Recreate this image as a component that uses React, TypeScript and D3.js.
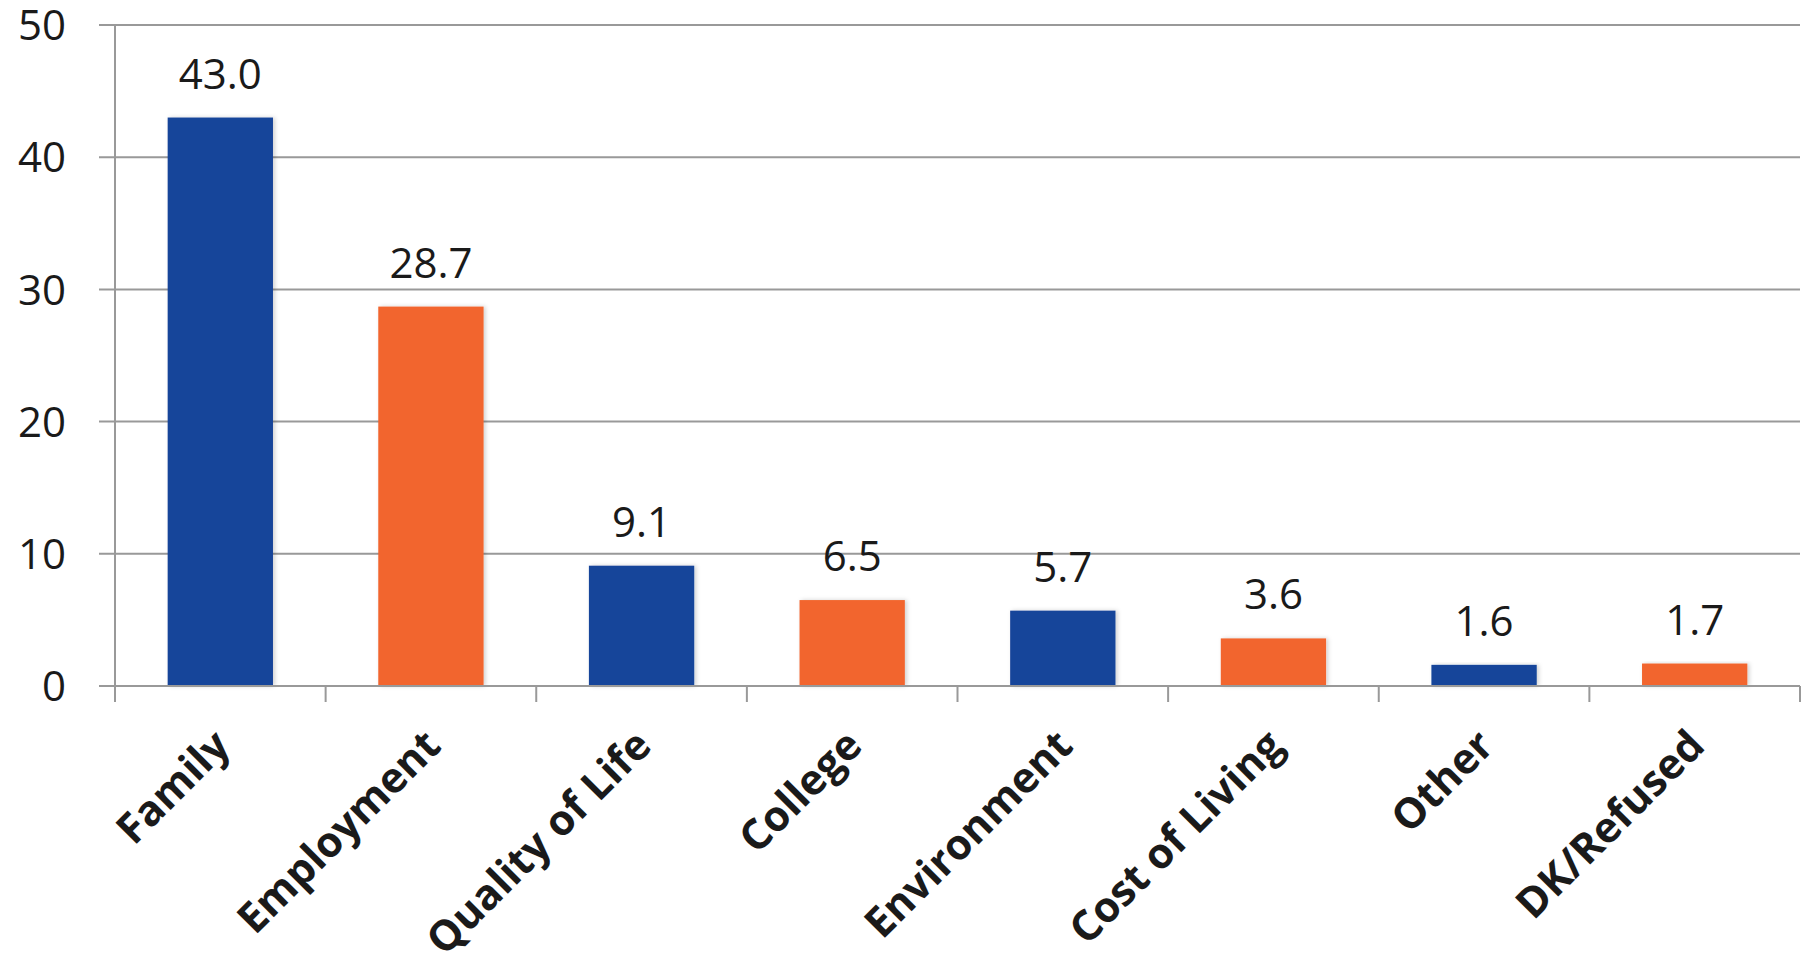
import React from "react";
import * as d3 from "d3";

const categories = ["Family", "Employment", "Quality of Life", "College", "Environment", "Cost of Living", "Other", "DK/Refused"];
const values = [43.0, 28.7, 9.1, 6.5, 5.7, 3.6, 1.6, 1.7];
const yTicks = [0, 10, 20, 30, 40, 50];
const barColors = ["#15449A", "#F2652D"];

const W = 1804;
const H = 958;
const left = 115;
const right = 1800;
const top = 25;
const bottom = 686;
const FONT = "'Open Sans', 'Liberation Sans', sans-serif";

export default function App() {
  const x = d3.scaleBand<string>().domain(categories).range([left, right]).paddingInner(0.5).paddingOuter(0.25);
  const y = d3.scaleLinear().domain([0, 50]).range([bottom, top]);
  const step = x.step();
  const bounds = d3.range(categories.length + 1).map((i) => left + i * step);

  return (
    <svg width={W} height={H} style={{ position: "absolute", left: 0, top: 0, background: "#fff" }}>
      <defs>
        <filter id="sh" x="-10%" y="-10%" width="130%" height="130%">
          <feDropShadow dx="2" dy="0" stdDeviation="2" floodColor="#000" floodOpacity="0.18" />
        </filter>
      </defs>
      {yTicks.map((t) => (
        <g key={t}>
          <line x1={99} x2={right} y1={y(t)} y2={y(t)} stroke="#999" strokeWidth={2} />
          <text x={66} y={y(t)} dy="0.36em" textAnchor="end" fontFamily={FONT} fontSize={42} fill="#1a1a1a">
            {t}
          </text>
        </g>
      ))}
      <line x1={left} x2={left} y1={top} y2={bottom + 16} stroke="#999" strokeWidth={2} />
      {bounds.slice(1).map((b, i) => (
        <line key={i} x1={b} x2={b} y1={bottom} y2={bottom + 16} stroke="#999" strokeWidth={2} />
      ))}
      {categories.map((c, i) => (
        <rect
          key={c}
          x={x(c)}
          y={y(values[i])}
          width={x.bandwidth()}
          height={bottom - y(values[i])}
          fill={barColors[i % 2]}
          filter="url(#sh)"
        />
      ))}
      <line x1={left} x2={right} y1={bottom} y2={bottom} stroke="#999" strokeWidth={2} />
      {categories.map((c, i) => (
        <text
          key={c + "v"}
          x={(x(c) as number) + x.bandwidth() / 2}
          y={y(values[i]) - 29}
          textAnchor="middle"
          fontFamily={FONT}
          fontSize={42}
          fill="#1a1a1a"
        >
          {values[i].toFixed(1)}
        </text>
      ))}
      {categories.map((c, i) => {
        const cx = (x(c) as number) + x.bandwidth() / 2 + 12;
        const cy = 748;
        return (
          <text
            key={c + "l"}
            transform={`translate(${cx},${cy}) rotate(-45)`}
            textAnchor="end"
            fontFamily={FONT}
            fontWeight="bold"
            fontSize={42}
            fill="#1a1a1a"
          >
            {c}
          </text>
        );
      })}
    </svg>
  );
}
